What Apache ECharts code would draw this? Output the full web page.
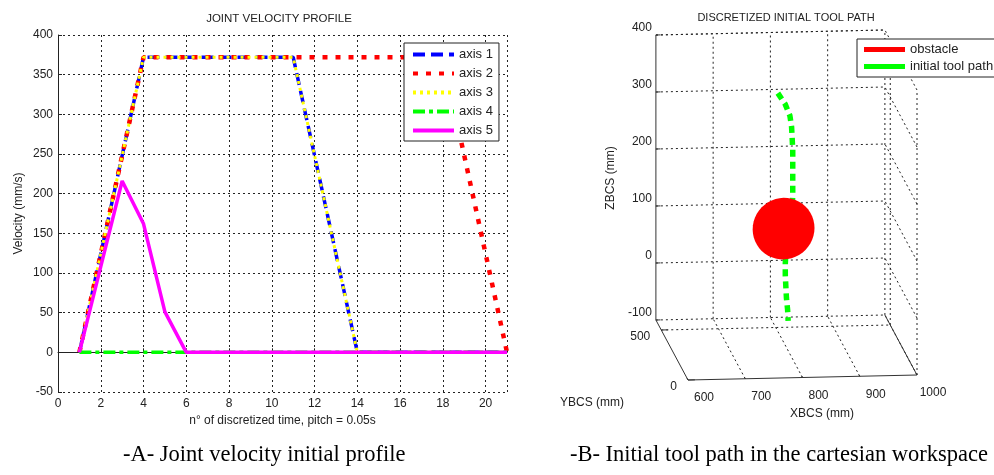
<!DOCTYPE html>
<html>
<head>
<meta charset="utf-8">
<script src="https://cdn.jsdelivr.net/npm/echarts@6/dist/echarts.min.js"></script>
<style>
  html, body { margin: 0; padding: 0; background: #fff; }
  #chart { width: 994px; height: 475px; }
</style>
</head>
<body>
<div id="chart"></div>
<script>
// ---- A: joint velocity profile ----
const timeSteps = [1, 2, 3, 4, 5, 6, 7, 8, 9, 10, 11, 12, 13, 14, 15, 16, 17, 18, 19, 20, 21]
const axis1 = [0, 124, 248, 372, 372, 372, 372, 372, 372, 372, 372, 248, 124, 0, 0, 0, 0, 0, 0, 0, 0]
const axis2 = [0, 124, 248, 372, 372, 372, 372, 372, 372, 372, 372, 372, 372, 372, 372, 372, 372, 372, 248, 124, 0]
const axis3 = [0, 124, 248, 372, 372, 372, 372, 372, 372, 372, 372, 248, 124, 0, 0, 0, 0, 0, 0, 0, 0]
const axis4 = [0, 0, 0, 0, 0, 0, 0, 0, 0, 0, 0, 0, 0, 0, 0, 0, 0, 0, 0, 0, 0]
const axis5 = [0, 108, 216, 162, 51, 0, 0, 0, 0, 0, 0, 0, 0, 0, 0, 0, 0, 0, 0, 0, 0]

// ---- B: discretized initial tool path (3D, mm) ----
const xTicks3d = [600, 700, 800, 900, 1000]
const yTicks3d = [0, 500]
const zTicks3d = [-100, 0, 100, 200, 300, 400]
const yLim3d = [0, 600]
const pathX = [799, 812, 820, 823, 824, 825, 825, 825, 825, 825, 824, 822, 819, 816, 813, 812, 812, 813, 814, 816, 817]
const pathY = [450, 450, 450, 450, 450, 450, 450, 450, 450, 450, 450, 450, 450, 450, 450, 450, 450, 450, 450, 450, 450]
const pathZ = [320, 300, 280, 260, 240, 220, 200, 180, 160, 140, 120, 100, 80, 60, 40, 20, 0, -20, -40, -60, -80]
const obstacleCenter = [809, 450, 82]
const obstacleRadius = 54

// simple parallel projection of the matlab view, gives [u, v] for the hidden 2d axes
const project = (x, y, z) => [
  (x - 600) * 0.5725 - y * 0.0535,
  (x - 600) * 0.0125 + y * 0.1 + (z + 100) * 0.57
]

const xMin = xTicks3d[0], xMax = xTicks3d[xTicks3d.length - 1]
const zMin = zTicks3d[0], zMax = zTicks3d[zTicks3d.length - 1]
const yMax = yLim3d[1]

const gridSegs = []
const axisSegs = []
const seg = (list, a, b) => list.push([...project(...a), ...project(...b)])

zTicks3d.forEach(z => {
  seg(gridSegs, [xMin, yMax, z], [xMax, yMax, z])
  seg(gridSegs, [xMax, 0, z], [xMax, yMax, z])
})
xTicks3d.slice(1).forEach(x => seg(gridSegs, [x, yMax, zMin], [x, yMax, zMax]))
xTicks3d.slice(1, -1).forEach(x => seg(gridSegs, [x, 0, zMin], [x, yMax, zMin]))
yTicks3d.forEach(y => {
  if (y > 0) seg(gridSegs, [xMin, y, zMin], [xMax, y, zMin])
  seg(gridSegs, [xMax, y, zMin], [xMax, y, zMax])
})
seg(gridSegs, [xMin, yMax, zMax], [xMax, yMax, zMax])

seg(axisSegs, [xMin, yMax, zMin], [xMin, yMax, zMax])
seg(axisSegs, [xMin, 0, zMin], [xMin, yMax, zMin])
seg(axisSegs, [xMin, 0, zMin], [xMax, 0, zMin])
seg(axisSegs, [xMax, 0, zMin], [xMax, yMax, zMin])
xTicks3d.forEach(x => seg(axisSegs, [x, 0, zMin], [x, 18, zMin]))
zTicks3d.forEach(z => seg(axisSegs, [xMin, yMax, z], [xMin + 8, yMax, z]))
yTicks3d.forEach(y => seg(axisSegs, [xMin, y, zMin], [xMin + 12, y, zMin]))

// tick labels: [u, v, text, align, dx, dy]
const tickLabels = []
zTicks3d.forEach(z => tickLabels.push([...project(xMin, yMax, z), String(z), 'right', -4, -7]))
yTicks3d.forEach(y => tickLabels.push([...project(xMin, y, zMin), String(y), 'right', -11, 7]))
xTicks3d.forEach(x => tickLabels.push([...project(x, 0, zMin), String(x), 'center', 16, 18]))

const pathData = pathX.map((x, i) => project(x, pathY[i], pathZ[i]))

const sphereOutline = []
for (let k = 0; k <= 48; k++) {
  const t = (k / 48) * Math.PI * 2
  sphereOutline.push(project(
    obstacleCenter[0] + obstacleRadius * Math.cos(t),
    obstacleCenter[1],
    obstacleCenter[2] + obstacleRadius * Math.sin(t)
  ))
}

const font = 'Liberation Sans'
const gridLine = { color: '#222', width: 1, type: [2, 3] }

const segmentItem = (color, width, dash) => (params, api) => {
  const p1 = api.coord([api.value(0), api.value(1)])
  const p2 = api.coord([api.value(2), api.value(3)])
  return {
    type: 'line',
    shape: { x1: p1[0], y1: p1[1], x2: p2[0], y2: p2[1] },
    style: { stroke: color, lineWidth: width, lineDash: dash }
  }
}

const pair = arr => timeSteps.map((t, i) => [t, arr[i]])

const chart = echarts.init(document.getElementById('chart'))

chart.setOption({
  animation: false,
  backgroundColor: '#fff',
  textStyle: { fontFamily: font },
  grid: [
    { left: 58, top: 35, width: 449, height: 357 },
    { left: 628, top: 20, width: 360, height: 370 }
  ],
  xAxis: [
    {
      type: 'value', gridIndex: 0, min: 0, max: 21, interval: 2,
      name: 'n° of discretized time, pitch = 0.05s', nameLocation: 'middle', nameGap: 22,
      nameTextStyle: { color: '#222', fontSize: 12 },
      axisLine: { lineStyle: { color: '#222' } },
      axisTick: { inside: true, length: 4, lineStyle: { color: '#222' } },
      axisLabel: { color: '#222', fontSize: 12, margin: 6, formatter: v => (v % 2 === 0 ? v : '') },
      splitLine: { show: true, lineStyle: gridLine }
    },
    { type: 'value', gridIndex: 1, min: -60, max: 300, show: false }
  ],
  yAxis: [
    {
      type: 'value', gridIndex: 0, min: -50, max: 400, interval: 50,
      name: 'Velocity (mm/s)', nameLocation: 'middle', nameGap: 33,
      nameTextStyle: { color: '#222', fontSize: 12 },
      axisLine: { show: true, lineStyle: { color: '#222' } },
      axisTick: { show: true, inside: true, length: 4, lineStyle: { color: '#222' } },
      axisLabel: { color: '#222', fontSize: 12, margin: 5 },
      splitLine: { show: true, lineStyle: gridLine }
    },
    { type: 'value', gridIndex: 1, min: -10, max: 360, show: false }
  ],
  legend: [
    {
      data: ['axis 1', 'axis 2', 'axis 3', 'axis 4', 'axis 5'],
      orient: 'vertical', left: 404, top: 43,
      backgroundColor: '#fff', borderColor: '#222', borderWidth: 1, borderRadius: 0,
      padding: [5, 6, 4, 7], itemWidth: 41, itemHeight: 14, itemGap: 6,
      itemStyle: { opacity: 0 },
      lineStyle: { width: 4 },
      textStyle: { color: '#222', fontSize: 13 }
    },
    {
      data: ['obstacle', 'initial tool path'],
      orient: 'vertical', left: 857, top: 39, icon: 'rect',
      backgroundColor: '#fff', borderColor: '#222', borderWidth: 1, borderRadius: 0,
      padding: [4, 40, 4, 7], itemWidth: 41, itemHeight: 5, itemGap: 4,
      textStyle: { color: '#222', fontSize: 13 }
    }
  ],
  graphic: [
    { type: 'text', x: 279, y: 19, style: { text: 'JOINT VELOCITY PROFILE', font: '11.5px ' + font, fill: '#222', align: 'center', verticalAlign: 'middle' } },
    { type: 'text', x: 786, y: 18, style: { text: 'DISCRETIZED INITIAL TOOL PATH', font: '11px ' + font, fill: '#222', align: 'center', verticalAlign: 'middle' } },
    { type: 'text', x: 611, y: 178, rotation: Math.PI / 2, style: { text: 'ZBCS (mm)', font: '12px ' + font, fill: '#222', align: 'center', verticalAlign: 'middle' } },
    { type: 'text', x: 592, y: 403, style: { text: 'YBCS (mm)', font: '12px ' + font, fill: '#222', align: 'center', verticalAlign: 'middle' } },
    { type: 'text', x: 822, y: 414, style: { text: 'XBCS (mm)', font: '12px ' + font, fill: '#222', align: 'center', verticalAlign: 'middle' } },
    { type: 'text', x: 123, y: 455, style: { text: '-A- Joint velocity initial profile', font: '22.5px "Liberation Serif"', fill: '#000', verticalAlign: 'middle' } },
    { type: 'text', x: 570, y: 455, style: { text: '-B- Initial tool path in the cartesian workspace', font: '22.5px "Liberation Serif"', fill: '#000', verticalAlign: 'middle' } }
  ],
  series: [
    {
      name: 'axis 1', type: 'line', xAxisIndex: 0, yAxisIndex: 0, data: pair(axis1), symbol: 'none',
      itemStyle: { color: '#0000ff' }, lineStyle: { color: '#0000ff', width: 3.5, type: [12, 6] }
    },
    {
      name: 'axis 2', type: 'line', xAxisIndex: 0, yAxisIndex: 0, data: pair(axis2), symbol: 'none',
      itemStyle: { color: '#ff0000' }, lineStyle: { color: '#ff0000', width: 4.5, type: [5, 8] }
    },
    {
      name: 'axis 3', type: 'line', xAxisIndex: 0, yAxisIndex: 0, data: pair(axis3), symbol: 'none',
      itemStyle: { color: '#ffff00' }, lineStyle: { color: '#ffff00', width: 3, type: [3, 4] }
    },
    {
      name: 'axis 4', type: 'line', xAxisIndex: 0, yAxisIndex: 0, data: pair(axis4), symbol: 'none',
      itemStyle: { color: '#00ff00' }, lineStyle: { color: '#00ff00', width: 3.5, type: [12, 4, 4, 4] }
    },
    {
      name: 'axis 5', type: 'line', xAxisIndex: 0, yAxisIndex: 0, data: pair(axis5), symbol: 'none',
      itemStyle: { color: '#ff00ff' }, lineStyle: { color: '#ff00ff', width: 3.5 }
    },
    {
      type: 'custom', xAxisIndex: 1, yAxisIndex: 1, data: gridSegs, silent: true, clip: false, z: 1,
      renderItem: segmentItem('#222', 1, [2, 3])
    },
    {
      type: 'custom', xAxisIndex: 1, yAxisIndex: 1, data: axisSegs, silent: true, clip: false, z: 1,
      renderItem: segmentItem('#333', 1, null)
    },
    {
      type: 'custom', xAxisIndex: 1, yAxisIndex: 1, data: tickLabels.map(l => [l[0], l[1]]), silent: true, clip: false,
      renderItem: (params, api) => {
        const l = tickLabels[params.dataIndex]
        const p = api.coord([api.value(0), api.value(1)])
        return {
          type: 'text', x: p[0] + l[4], y: p[1] + l[5],
          style: { text: l[2], font: '12px ' + font, fill: '#222', align: l[3], verticalAlign: 'middle' }
        }
      }
    },
    {
      name: 'initial tool path', type: 'line', xAxisIndex: 1, yAxisIndex: 1, data: pathData, symbol: 'none', z: 3,
      itemStyle: { color: '#00ff00' }, lineStyle: { color: '#00ff00', width: 5.5, type: [7, 5] }
    },
    {
      name: 'obstacle', type: 'custom', xAxisIndex: 1, yAxisIndex: 1, z: 4, clip: false,
      data: [project(...obstacleCenter)],
      itemStyle: { color: '#ff0000' },
      renderItem: (params, api) => ({
        type: 'polygon',
        shape: { points: sphereOutline.map(p => api.coord(p)) },
        style: { fill: '#ff0000' }
      })
    }
  ]
})
</script>
</body>
</html>
